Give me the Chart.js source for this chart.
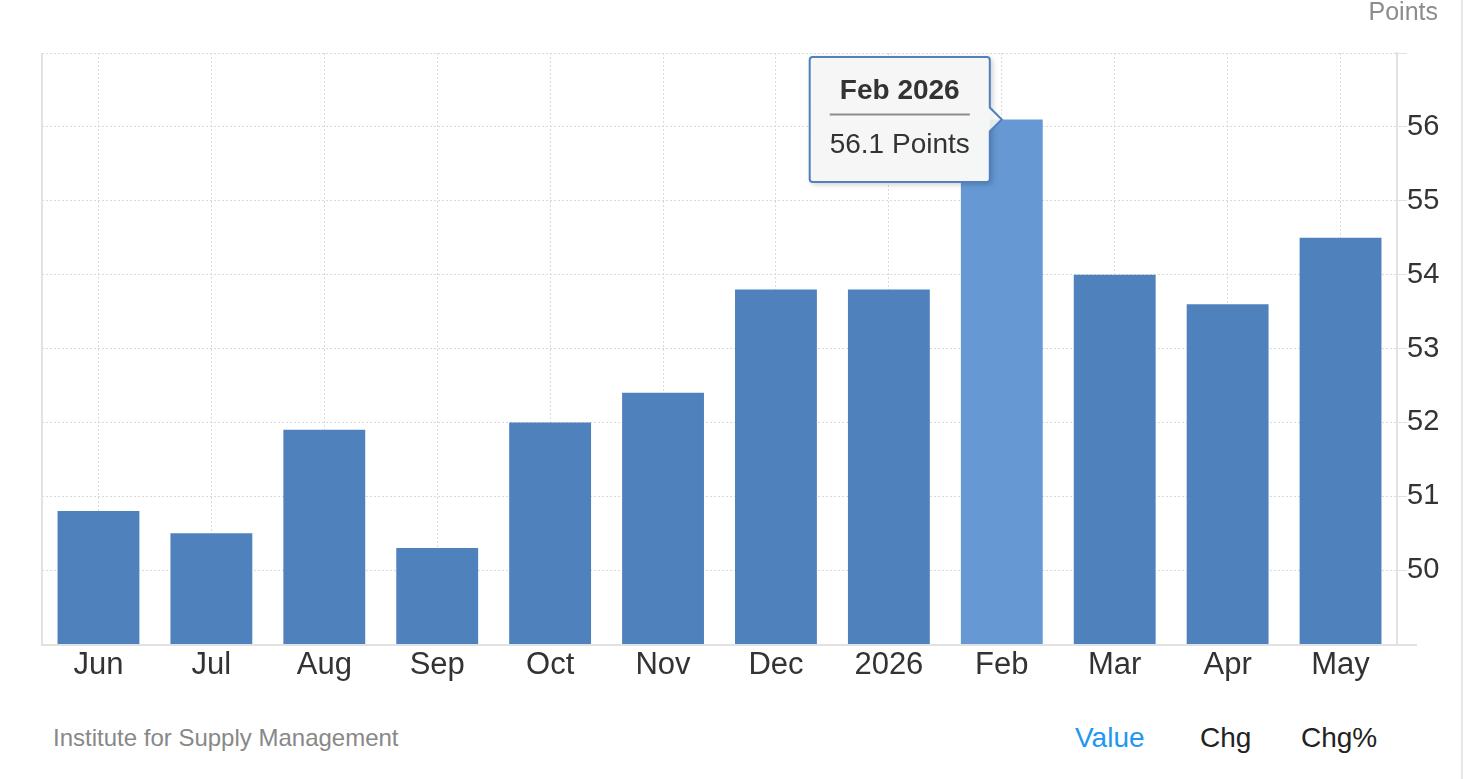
<!DOCTYPE html>
<html lang="en">
<head>
    <meta charset="UTF-8">
    <title>ISM Services PMI</title>
    <script src="https://cdn.jsdelivr.net/npm/chart.js@4.4.1/dist/chart.umd.min.js"></script>
    <style>
        body {
            margin: 0;
            background: #ffffff;
            font-family: "Helvetica Neue", Helvetica, Arial, "Liberation Sans", sans-serif;
            width: 1471px;
            height: 779px;
            overflow: hidden;
            position: relative;
        }
        .chart-box {
            position: absolute;
            left: 0;
            top: 0;
            width: 1460px;
            height: 700px;
        }
        .unit {
            position: absolute;
            right: 33px;
            top: -3px;
            font-size: 25px;
            color: #8c8c8c;
        }
        .edge {
            position: absolute;
            left: 1461px;
            top: 0;
            width: 2px;
            height: 779px;
            background: #e6e6ea;
        }
        .source {
            position: absolute;
            left: 53px;
            top: 724px;
            font-size: 24px;
            color: #888888;
        }
        .switch {
            position: absolute;
            top: 722px;
            font-size: 28px;
            color: #222222;
        }
    </style>
</head>
<body>
    <div class="chart-box"><canvas id="pmiChart"></canvas></div>
    <div class="unit">Points</div>
    <div class="edge"></div>
    <div class="source">Institute for Supply Management</div>
    <div class="switch" style="left:1075px;color:#2196f3">Value</div>
    <div class="switch" style="left:1200px">Chg</div>
    <div class="switch" style="left:1301px">Chg%</div>

    <script>
        // monthly readings, Jun 2025 - May 2026
        const labels = ["Jun", "Jul", "Aug", "Sep", "Oct", "Nov", "Dec", "2026", "Feb", "Mar", "Apr", "May"];
        const fullLabels = ["Jun 2025", "Jul 2025", "Aug 2025", "Sep 2025", "Oct 2025", "Nov 2025",
                            "Dec 2025", "Jan 2026", "Feb 2026", "Mar 2026", "Apr 2026", "May 2026"];
        const values = [50.8, 50.5, 51.9, 50.3, 52.0, 52.4, 53.8, 53.8, 56.1, 54.0, 53.6, 54.5];
        const yMin = 49;
        const yMax = 57;
        const activeIndex = 8; // Feb 2026 shown in the tooltip

        const barColor = '#4f81bd';
        const activeColor = '#6699d4';
        const gridColor = '#d9d9d9';
        const axisColor = '#e2e2e2';

        // left frame line, bottom line, tooltip shadow and title underline
        const extras = {
            id: 'extras',
            afterDatasetsDraw(chart) {
                const { ctx, chartArea } = chart;
                ctx.save();
                ctx.strokeStyle = axisColor;
                ctx.lineWidth = 2;
                ctx.beginPath();
                ctx.moveTo(chartArea.left, chartArea.top);
                ctx.lineTo(chartArea.left, chartArea.bottom + 2);
                ctx.moveTo(chartArea.left, chartArea.bottom + 1);
                ctx.lineTo(chartArea.right + 20, chartArea.bottom + 1);
                ctx.stroke();
                ctx.restore();
            },
            beforeTooltipDraw(chart, args) {
                const t = args.tooltip;
                if (!t.opacity) return;
                const ctx = chart.ctx;
                ctx.save();
                ctx.shadowColor = 'rgba(0,0,0,0.25)';
                ctx.shadowBlur = 6;
                ctx.shadowOffsetX = 2;
                ctx.shadowOffsetY = 2;
                ctx.fillStyle = 'rgba(247,247,247,0.9)';
                ctx.fillRect(t.x, t.y, t.width, t.height);
                ctx.restore();
            },
            afterTooltipDraw(chart, args) {
                const t = args.tooltip;
                if (!t.opacity) return;
                const ctx = chart.ctx;
                const y = Math.round(t.y + 18 + 33.6 + 5.5) + 0.5;
                ctx.save();
                ctx.strokeStyle = '#8c8c8c';
                ctx.lineWidth = 2;
                ctx.beginPath();
                ctx.moveTo(t.x + 20, y);
                ctx.lineTo(t.x + t.width - 20, y);
                ctx.stroke();
                ctx.restore();
            }
        };

        const pickColor = (c) => c.dataIndex === activeIndex ? activeColor : barColor;

        const ctx = document.getElementById('pmiChart').getContext('2d');
        const chart = new Chart(ctx, {
            type: 'bar',
            data: {
                labels: labels,
                datasets: [{
                    label: 'Points',
                    data: values,
                    backgroundColor: pickColor,
                    hoverBackgroundColor: pickColor,
                    borderWidth: 0,
                    barPercentage: 0.725,
                    categoryPercentage: 1.0
                }]
            },
            options: {
                responsive: true,
                maintainAspectRatio: false,
                animation: false,
                events: [],
                layout: {
                    padding: { left: 42, top: 53, right: 0, bottom: 0 }
                },
                plugins: {
                    legend: { display: false },
                    tooltip: {
                        enabled: true,
                        xAlign: 'right',
                        yAlign: 'center',
                        caretSize: 12,
                        caretPadding: 0,
                        cornerRadius: 3,
                        backgroundColor: 'rgba(247,247,247,0.88)',
                        borderColor: '#4f81bd',
                        borderWidth: 2,
                        titleColor: '#333333',
                        bodyColor: '#333333',
                        titleAlign: 'center',
                        bodyAlign: 'center',
                        titleFont: { family: 'Arial, "Liberation Sans", sans-serif', size: 28, weight: 'bold' },
                        bodyFont: { family: 'Arial, "Liberation Sans", sans-serif', size: 28 },
                        padding: { left: 20, right: 20, top: 18, bottom: 20 },
                        titleMarginBottom: 20,
                        displayColors: false,
                        callbacks: {
                            title: (items) => fullLabels[items[0].dataIndex],
                            label: (item) => item.parsed.y.toFixed(1) + ' Points'
                        }
                    }
                },
                scales: {
                    x: {
                        grid: {
                            offset: false,
                            color: gridColor,
                            drawTicks: false
                        },
                        border: { display: false, dash: [2, 2] },
                        ticks: {
                            color: '#333333',
                            padding: 3,
                            font: { family: 'Arial, "Liberation Sans", sans-serif', size: 31 }
                        },
                        afterFit: (axis) => { axis.height = 56; }
                    },
                    y: {
                        position: 'right',
                        min: yMin,
                        max: yMax,
                        grid: {
                            color: gridColor,
                            tickLength: 10,
                            tickColor: axisColor,
                            tickBorderDash: []
                        },
                        border: { display: true, color: axisColor, width: 2, dash: [2, 2] },
                        ticks: {
                            stepSize: 1,
                            padding: 0,
                            color: '#333333',
                            font: { family: 'Arial, "Liberation Sans", sans-serif', size: 29 },
                            callback: (v) => (v === yMin || v === yMax) ? '' : v
                        },
                        afterFit: (axis) => { axis.width = 63; }
                    }
                }
            },
            plugins: [extras]
        });

        const active = [{ datasetIndex: 0, index: activeIndex }];
        chart.setActiveElements(active);
        chart.tooltip.setActiveElements(active, { x: 0, y: 0 });
        chart.update('none');
    </script>
</body>
</html>
